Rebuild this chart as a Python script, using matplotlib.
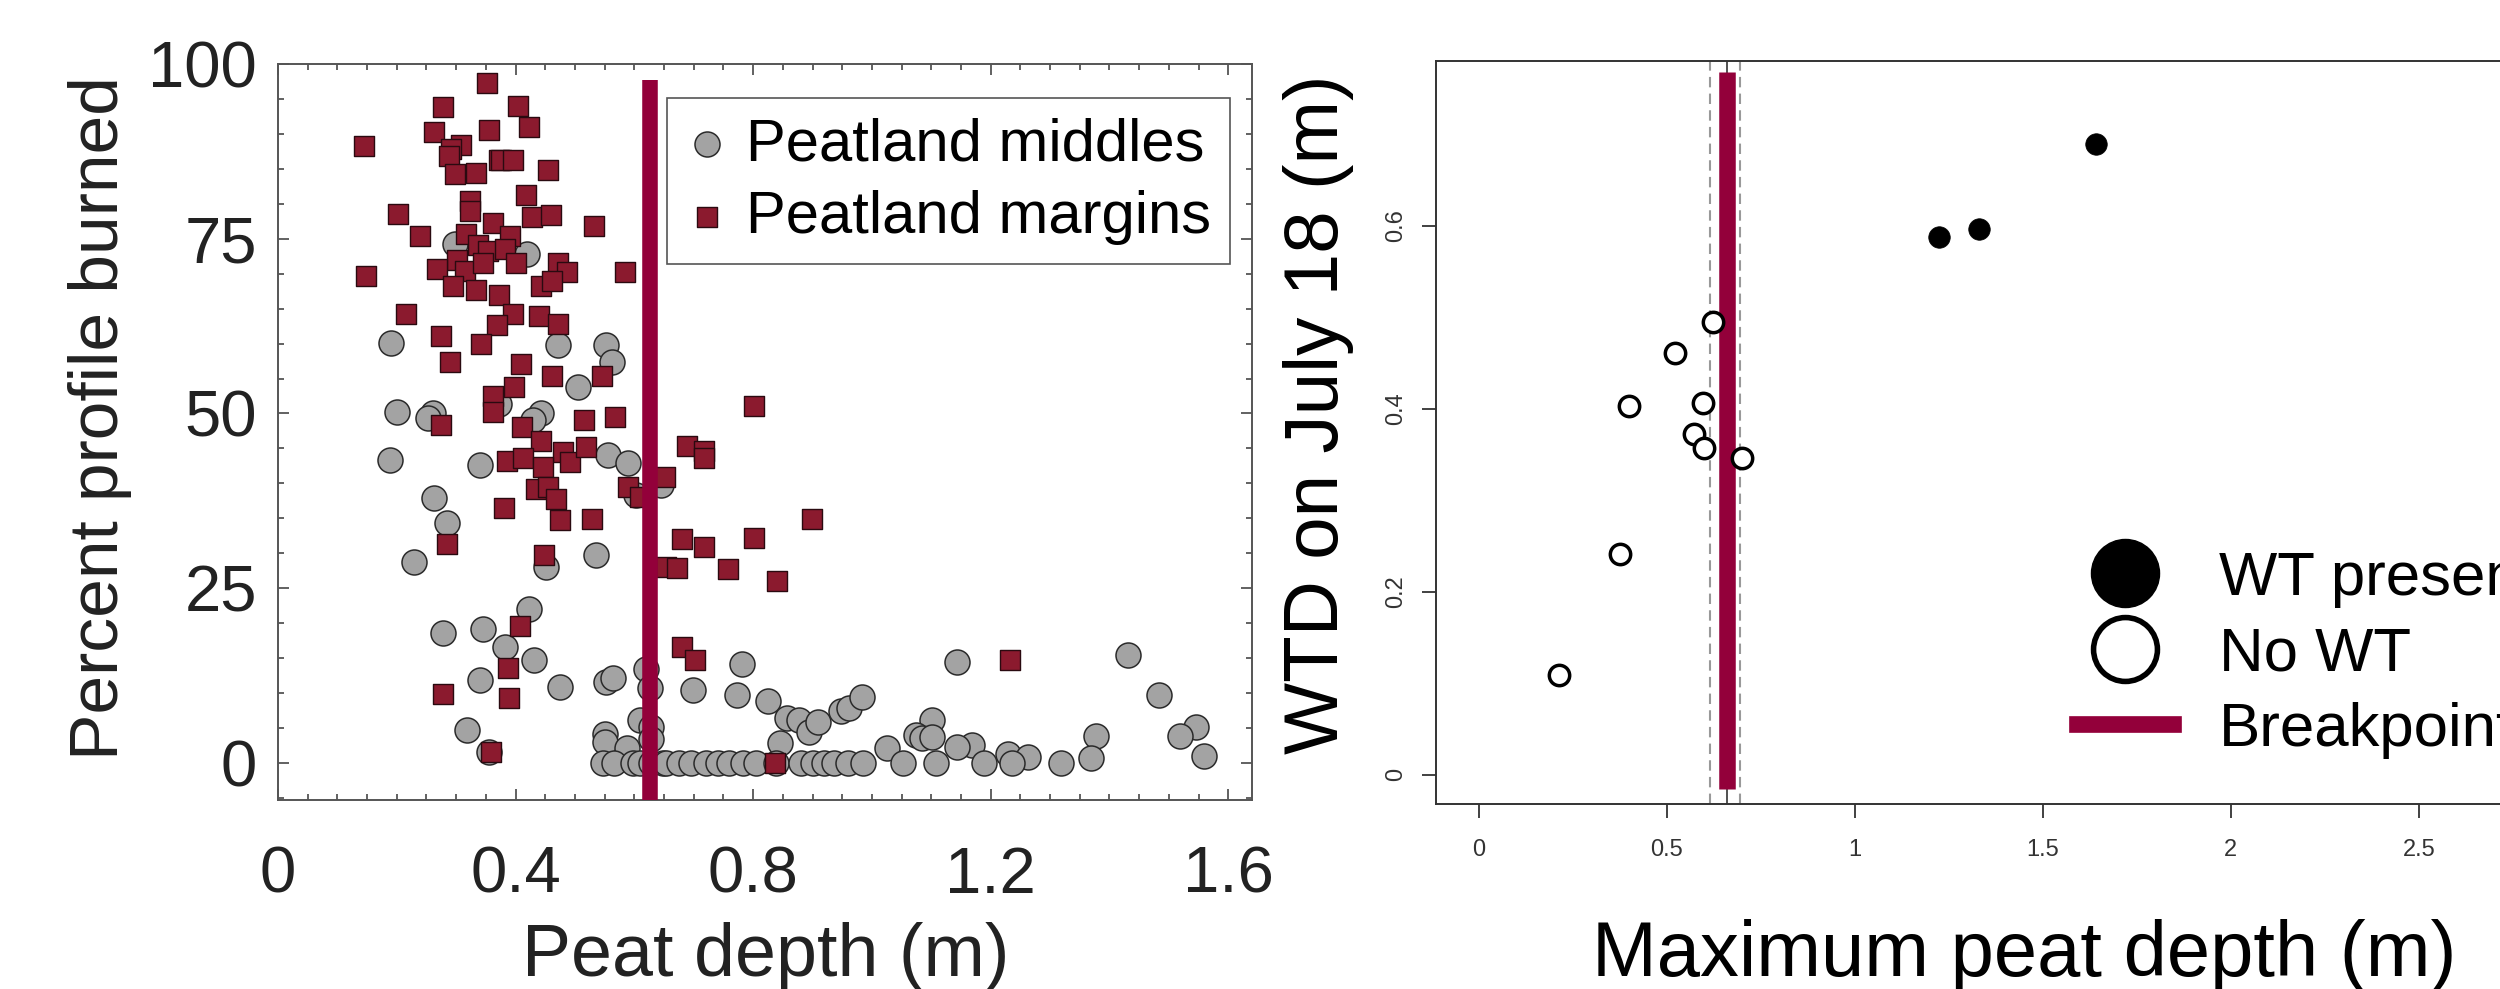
import numpy as np
import matplotlib
matplotlib.use("Agg")
import matplotlib.pyplot as plt
from matplotlib.ticker import MultipleLocator, FuncFormatter
from matplotlib.lines import Line2D

plt.rcParams['font.family'] = ['Liberation Sans', 'DejaVu Sans']

# ---- left panel data: percent profile burned vs peat depth
margins_x = [0.352, 0.278, 0.404, 0.422, 0.263, 0.356, 0.144, 0.308, 0.291, 0.288,
             0.298, 0.334, 0.372, 0.376, 0.396, 0.454, 0.417, 0.324, 0.324, 0.202,
             0.427, 0.460, 0.532, 0.239, 0.362, 0.316, 0.390, 0.336, 0.353, 0.382,
             0.400, 0.302, 0.268, 0.315, 0.345, 0.148, 0.585, 0.472, 0.487, 0.295,
             0.334, 0.442, 0.461, 0.372, 0.215, 0.395, 0.440, 0.472, 0.368, 0.275,
             0.341, 0.289, 0.409, 0.462, 0.546, 0.398, 0.362, 0.362, 0.274, 0.410,
             0.516, 0.567, 0.442, 0.385, 0.413, 0.480, 0.492, 0.519, 0.446, 0.435,
             0.455, 0.468, 0.589, 0.609, 0.380, 0.474, 0.528, 0.284, 0.448, 0.408,
             0.388, 0.278, 0.389, 0.358, 0.802, 0.689, 0.717, 0.717, 0.651, 0.899,
             0.680, 0.718, 0.802, 0.654, 0.672, 0.758, 0.840, 0.681, 0.702, 0.836,
             1.232]
margins_y = [97.3, 93.9, 94.0, 91.0, 90.3, 90.5, 88.3, 88.4, 87.8, 86.8,
             84.2, 84.4, 86.3, 86.3, 86.3, 84.8, 81.3, 80.4, 79.0, 78.5,
             78.1, 78.4, 76.8, 75.4, 77.2, 75.7, 75.4, 74.1, 73.3, 73.6,
             71.6, 71.9, 70.7, 70.4, 71.6, 69.7, 70.3, 71.6, 70.2, 68.3,
             67.6, 68.3, 68.9, 66.9, 64.3, 64.2, 63.9, 62.8, 62.6, 61.1,
             60.0, 57.4, 57.1, 55.3, 55.3, 53.8, 52.5, 50.2, 48.3, 48.1,
             49.0, 49.5, 46.1, 43.2, 43.7, 44.5, 43.0, 45.2, 42.4, 39.2,
             39.5, 37.8, 39.5, 38.1, 36.5, 34.8, 34.9, 31.3, 29.8, 19.6,
             13.6, 9.8, 9.3, 1.5, 51.0, 45.3, 44.6, 43.7, 40.9, 34.9,
             32.0, 30.9, 32.2, 28.0, 27.9, 27.7, 26.1, 16.6, 14.7, 0.0,
             14.7]

middles_x = [0.298, 0.419, 0.191, 0.472, 0.553, 0.563, 0.505, 0.372, 0.200, 0.261,
             0.253, 0.443, 0.430, 0.188, 0.340, 0.556, 0.590, 0.603, 0.645, 0.263,
             0.284, 0.229, 0.451, 0.536, 0.422, 0.278, 0.345, 0.383, 0.431, 0.340,
             0.474, 0.553, 0.564, 0.620, 0.626, 0.318, 0.356, 0.550, 0.550, 0.587,
             0.609, 0.628, 0.628, 0.782, 0.699, 0.773, 0.825, 0.857, 0.877, 0.894,
             0.910, 0.845, 0.948, 0.962, 0.983, 1.143, 1.026, 1.101, 1.074, 1.085,
             1.102, 1.168, 1.143, 1.431, 1.483, 1.546, 1.518, 1.560, 1.377, 1.369,
             1.229, 1.263,
             0.548, 0.566, 0.597, 0.610, 0.628, 0.648, 0.654, 0.676, 0.696, 0.721,
             0.741, 0.760, 0.783, 0.805, 0.838, 0.881, 0.901, 0.920, 0.937, 0.960,
             0.985, 1.052, 1.108, 1.189, 1.236, 1.318]
middles_y = [74.2, 72.8, 60.1, 59.8, 59.8, 57.4, 53.8, 51.4, 50.2, 50.0,
             49.3, 50.0, 49.0, 43.3, 42.6, 44.0, 42.9, 38.3, 39.8, 37.9,
             34.4, 28.8, 28.0, 29.7, 22.0, 18.6, 19.1, 16.6, 14.8, 11.8,
             10.9, 11.6, 12.1, 13.5, 10.7, 4.7, 1.5, 4.2, 3.0, 2.1,
             6.1, 5.2, 3.4, 14.1, 10.5, 9.7, 8.8, 6.5, 6.1, 4.5,
             5.8, 2.8, 7.4, 7.8, 9.5, 14.4, 2.1, 6.1, 4.0, 3.5,
             3.7, 2.5, 2.3, 15.4, 9.7, 5.2, 3.8, 1.0, 3.8, 0.7,
             1.3, 0.9,
             0, 0, 0, 0, 0, 0, 0, 0, 0, 0,
             0, 0, 0, 0, 0, 0, 0, 0, 0, 0,
             0, 0, 0, 0, 0, 0]

breakpoint_left = 0.627

# ---- right panel data: WTD on July 18 vs maximum peat depth
wt_present_x = [1.224, 1.331, 1.641]
wt_present_y = [0.588, 0.596, 0.689]
no_wt_x = [0.213, 0.376, 0.400, 0.521, 0.572, 0.596, 0.598, 0.622, 0.699]
no_wt_y = [0.109, 0.241, 0.403, 0.461, 0.372, 0.406, 0.357, 0.495, 0.346]
breakpoint_right = 0.659
breakpoint_ci = [0.614, 0.694]

red_line = '#93003A'
square_fill = '#8B1A2E'
circle_fill = '#A3A3A3'

W, H = 2500, 989
fig = plt.figure(figsize=(25, 9.89), dpi=100)

# ================= left panel =================
ax1 = fig.add_axes([278 / W, 1 - 800 / H, 974 / W, 736 / H])
ax1.scatter(middles_x, middles_y, s=324, marker='o', facecolor=circle_fill,
            edgecolor='#2a2a2a', linewidth=1.1, zorder=2, label='Peatland middles')
ax1.scatter(margins_x, margins_y, s=207, marker='s', facecolor=square_fill,
            edgecolor='#2a0a10', linewidth=1.0, zorder=3, label='Peatland margins')
ax1.vlines(breakpoint_left, -5.3, 97.7, color=red_line, linewidth=11.2, zorder=4)

ax1.set_xlim(0, 1.64)
ax1.set_ylim(-5.3, 100.0)
ax1.xaxis.set_major_locator(MultipleLocator(0.4))
ax1.xaxis.set_minor_locator(MultipleLocator(0.05))
ax1.yaxis.set_major_locator(MultipleLocator(25))
ax1.yaxis.set_minor_locator(MultipleLocator(5))
ax1.xaxis.set_major_formatter(FuncFormatter(lambda v, p: '0' if abs(v) < 1e-9 else f'{v:.1f}'))
ax1.yaxis.set_major_formatter(FuncFormatter(lambda v, p: f'{v:.0f}'))
ax1.tick_params(which='both', direction='in', top=True, right=True,
                color='#555555', width=1.3)
ax1.tick_params(which='major', length=8)
ax1.tick_params(which='minor', length=4.3)
ax1.tick_params(axis='y', which='major', labelsize=47, pad=15, labelcolor='#222222')
ax1.tick_params(axis='x', which='major', labelsize=47, pad=33, labelcolor='#222222')
for sp in ax1.spines.values():
    sp.set_color('#555555')
    sp.set_linewidth(1.4)

fig.text(100 / W, 1 - 418 / H, 'Percent profile burned', rotation=90,
         ha='center', va='center', fontsize=50, color='#222222')
fig.text(766 / W, 1 - 976 / H, 'Peat depth (m)', ha='center', va='baseline',
         fontsize=53, color='#222222')

leg1 = fig.legend(loc='upper left', bbox_to_anchor=(667 / W, 1 - 98 / H),
                  fontsize=43, frameon=True, fancybox=False, framealpha=1,
                  edgecolor='#555555', borderpad=0.32, borderaxespad=0,
                  handlelength=0.7, handletextpad=0.3, labelspacing=0.3)
leg1.get_frame().set_linewidth(1.2)

# ================= right panel =================
ax2 = fig.add_axes([1436 / W, 1 - 804 / H, 1152 / W, 743 / H])
ax2.axvline(breakpoint_ci[0], color='#999999', linestyle=(0, (5, 3)), linewidth=1.5, zorder=1)
ax2.axvline(breakpoint_ci[1], color='#999999', linestyle=(0, (5, 3)), linewidth=1.5, zorder=1)
ax2.axvline(breakpoint_right, color='#333333', linewidth=1.2, zorder=1)
ax2.vlines(breakpoint_right, -0.016, 0.768, color=red_line, linewidth=11.9, zorder=2)
ax2.scatter(no_wt_x, no_wt_y, s=215, marker='o', facecolor='white',
            edgecolor='black', linewidth=2.5, zorder=3)
ax2.scatter(wt_present_x, wt_present_y, s=240, marker='o', facecolor='black',
            edgecolor='black', linewidth=0.5, zorder=3)

ax2.set_xlim(-0.114, 2.95)
ax2.set_ylim(-0.032, 0.780)
ax2.set_xticks([0, 0.5, 1, 1.5, 2, 2.5])
ax2.set_xticklabels(['0', '0.5', '1', '1.5', '2', '2.5'])
ax2.set_yticks([0, 0.2, 0.4, 0.6])
ax2.set_yticklabels(['0', '0.2', '0.4', '0.6'], rotation=90, va='center')
ax2.tick_params(direction='out', length=10, width=1.3, color='#333333',
                labelsize=17, labelcolor='#333333')
ax2.tick_params(axis='x', pad=15)
ax2.tick_params(axis='y', pad=11)
for sp in ax2.spines.values():
    sp.set_color('#333333')
    sp.set_linewidth(1.4)

fig.text(1318 / W, 1 - 414 / H, 'WTD on July 18 (m)', rotation=90,
         ha='center', va='center', fontsize=55, color='black')
fig.text(2024 / W, 1 - 976 / H, 'Maximum peat depth (m)', ha='center',
         va='baseline', fontsize=56, color='black')

handles = [Line2D([], [], marker='o', linestyle='none', color='black', markersize=49),
           Line2D([], [], marker='o', linestyle='none', markerfacecolor='white',
                  markeredgecolor='black', markeredgewidth=4, markersize=46),
           Line2D([], [], color=red_line, linewidth=12)]
fig.legend(handles, ['WT present', 'No WT', 'Breakpoint'], loc='upper left',
           bbox_to_anchor=(2077 / W, 1 - 551 / H), frameon=False, fontsize=44.5,
           handlelength=1.56, handletextpad=0.74, labelspacing=0.3,
           borderpad=0, borderaxespad=0)

fig.savefig('out.png', dpi=100)
